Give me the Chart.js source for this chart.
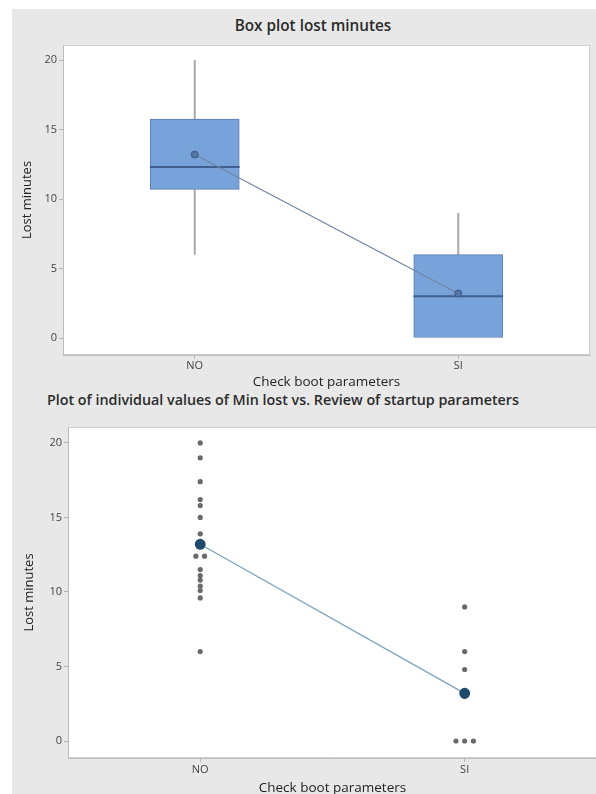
<!DOCTYPE html>
<html>
<head>
<meta charset="utf-8">
<script src="https://cdn.jsdelivr.net/npm/chart.js@4.4.0/dist/chart.umd.min.js"></script>
<style>
  html, body { margin: 0; padding: 0; background: #fff; width: 596px; height: 794px; overflow: hidden; }
  #bg { position: absolute; left: 12px; top: 9px; width: 600px; height: 800px; background: #e8e8e8; }
  .title { position: absolute; font-family: "Open Sans", sans-serif; font-weight: 600; color: #2b2b2b;
           white-space: nowrap; transform: translate(-50%, -50%); }
  canvas { position: absolute; }
</style>
</head>
<body>
<div id="bg"></div>
<div class="title" style="left:313px; top:25px; font-size:15.3px">Box plot lost minutes</div>
<div class="title" style="left:283px; top:399px; font-size:14.3px">Plot of individual values of Min lost vs. Review of startup parameters</div>
<canvas id="box" width="583" height="381" style="left:12px; top:9px"></canvas>
<canvas id="ind" width="591" height="386" style="left:12px; top:410px"></canvas>
<script>
const groups = ["NO", "SI"];
const yTicks = [0, 5, 10, 15, 20];

// box plot summary
const boxQ1 = [10.7, 0];
const boxQ3 = [15.75, 6];
const boxMedian = [12.3, 3];
const whiskerLow = [6, 0];
const whiskerHigh = [20, 9];
const meanValues = [13.2, 3.2];

// individual values
const valuesNO = [20, 19, 17.4, 16.2, 15.8, 15, 13.9, 12.4, 12.4, 11.5, 11.1, 10.8, 10.4, 10.1, 9.6, 6];
const valuesSI = [9, 6, 4.8, 3, 0, 0, 0];

Chart.defaults.font.family = '"Open Sans", sans-serif';
Chart.defaults.animation = false;

const plotBg = {
  id: "plotBg",
  beforeDraw(chart) {
    const { ctx, chartArea: a } = chart;
    ctx.save();
    ctx.fillStyle = "#ffffff";
    ctx.fillRect(a.left, a.top, a.width, a.height);
    ctx.strokeStyle = "#cfcfcf";
    ctx.lineWidth = 1;
    ctx.strokeRect(a.left + 0.5, a.top + 0.5, a.width - 1, a.height - 1);
    ctx.restore();
  }
};

function axes(yMin, yMax, yWidth, xHeight, tickPad, yTitlePad) {
  return {
    x: {
      type: "linear", min: 0.5, max: 2.5, offset: false,
      afterBuildTicks: s => { s.ticks = groups.map((g, i) => ({ value: i + 1 })); },
      afterFit: s => { s.height = xHeight; },
      ticks: { callback: v => groups[Math.round(v) - 1], font: { size: 11 }, color: "#444", padding: tickPad },
      grid: { drawOnChartArea: false, offset: false, tickLength: 4, color: "#b5b5b5" },
      border: { color: "#bdbdbd" },
      title: { display: true, text: "Check boot parameters", font: { size: 13.5 }, color: "#222", padding: { top: 0, bottom: 0 } }
    },
    y: {
      type: "linear", min: yMin, max: yMax,
      afterBuildTicks: s => { s.ticks = yTicks.map(v => ({ value: v })); },
      afterFit: s => { s.width = yWidth; },
      ticks: { font: { size: 11 }, color: "#444", padding: 2 },
      grid: { drawOnChartArea: false, tickLength: 4, color: "#b5b5b5" },
      border: { color: "#bdbdbd" },
      title: { display: true, text: "Lost minutes", font: { size: 13 }, color: "#222", padding: { top: yTitlePad, bottom: 0 } }
    }
  };
}

// whisker segments, separated by gaps
const whiskerPts = [];
groups.forEach((g, i) => {
  whiskerPts.push({ x: i + 1, y: boxQ3[i] }, { x: i + 1, y: whiskerHigh[i] }, { x: i + 1, y: null });
  whiskerPts.push({ x: i + 1, y: boxQ1[i] }, { x: i + 1, y: whiskerLow[i] }, { x: i + 1, y: null });
});

new Chart(document.getElementById("box"), {
  type: "bar",
  data: {
    datasets: [
      {
        type: "scatter", data: whiskerPts, showLine: true, spanGaps: false,
        borderColor: "#a8a8a8", borderWidth: 2, pointRadius: 0, order: 4
      },
      {
        type: "bar", data: groups.map((g, i) => ({ x: i + 1, y: [boxQ1[i], boxQ3[i]] })),
        backgroundColor: "#78a3da", borderColor: "#5a7fb3", borderWidth: 1, borderSkipped: false,
        barThickness: 89, grouped: false, order: 3
      },
      {
        type: "bar", data: groups.map((g, i) => ({ x: i + 1, y: [boxMedian[i] - 0.05, boxMedian[i] + 0.05] })),
        backgroundColor: "#3f5f8e", borderWidth: 0, barThickness: 89, grouped: false, order: 2
      },
      {
        type: "scatter", data: groups.map((g, i) => ({ x: i + 1, y: meanValues[i] })), showLine: true,
        borderColor: "#6f84a3", borderWidth: 1.2, pointRadius: 3.5,
        pointBackgroundColor: "#5676a6", pointBorderColor: "#3d5a86", pointBorderWidth: 1, order: 1
      }
    ]
  },
  options: {
    responsive: false,
    layout: { padding: { top: 36, right: 0, bottom: 0, left: 0 } },
    plugins: { legend: { display: false }, tooltip: { enabled: false } },
    scales: axes(-1.22, 21.08, 51, 35, 0, 7)
  },
  plugins: [plotBg]
});

// ties are drawn side by side
const dodge = 0.033;
const points = [];
[valuesNO, valuesSI].forEach((vals, i) => {
  const counts = {};
  vals.forEach(v => { counts[v] = (counts[v] || 0) + 1; });
  const seen = {};
  vals.forEach(v => {
    const k = seen[v] || 0;
    seen[v] = k + 1;
    points.push({ x: i + 1 + (k - (counts[v] - 1) / 2) * dodge, y: v });
  });
});

new Chart(document.getElementById("ind"), {
  type: "scatter",
  data: {
    datasets: [
      {
        data: groups.map((g, i) => ({ x: i + 1, y: meanValues[i] })), showLine: true,
        borderColor: "#79a4bb", borderWidth: 1.3, pointRadius: 4.8,
        pointBackgroundColor: "#1f4a6b", pointBorderColor: "#1f4a6b", order: 1
      },
      {
        data: points, pointRadius: 2.6, pointBackgroundColor: "#6a6a6a", pointBorderWidth: 0, order: 2
      }
    ]
  },
  options: {
    responsive: false,
    layout: { padding: { top: 17, right: 0, bottom: 0, left: 0 } },
    plugins: { legend: { display: false }, tooltip: { enabled: false } },
    scales: axes(-1.14, 21.07, 56, 38, 1, 9)
  },
  plugins: [plotBg]
});
</script>
</body>
</html>
